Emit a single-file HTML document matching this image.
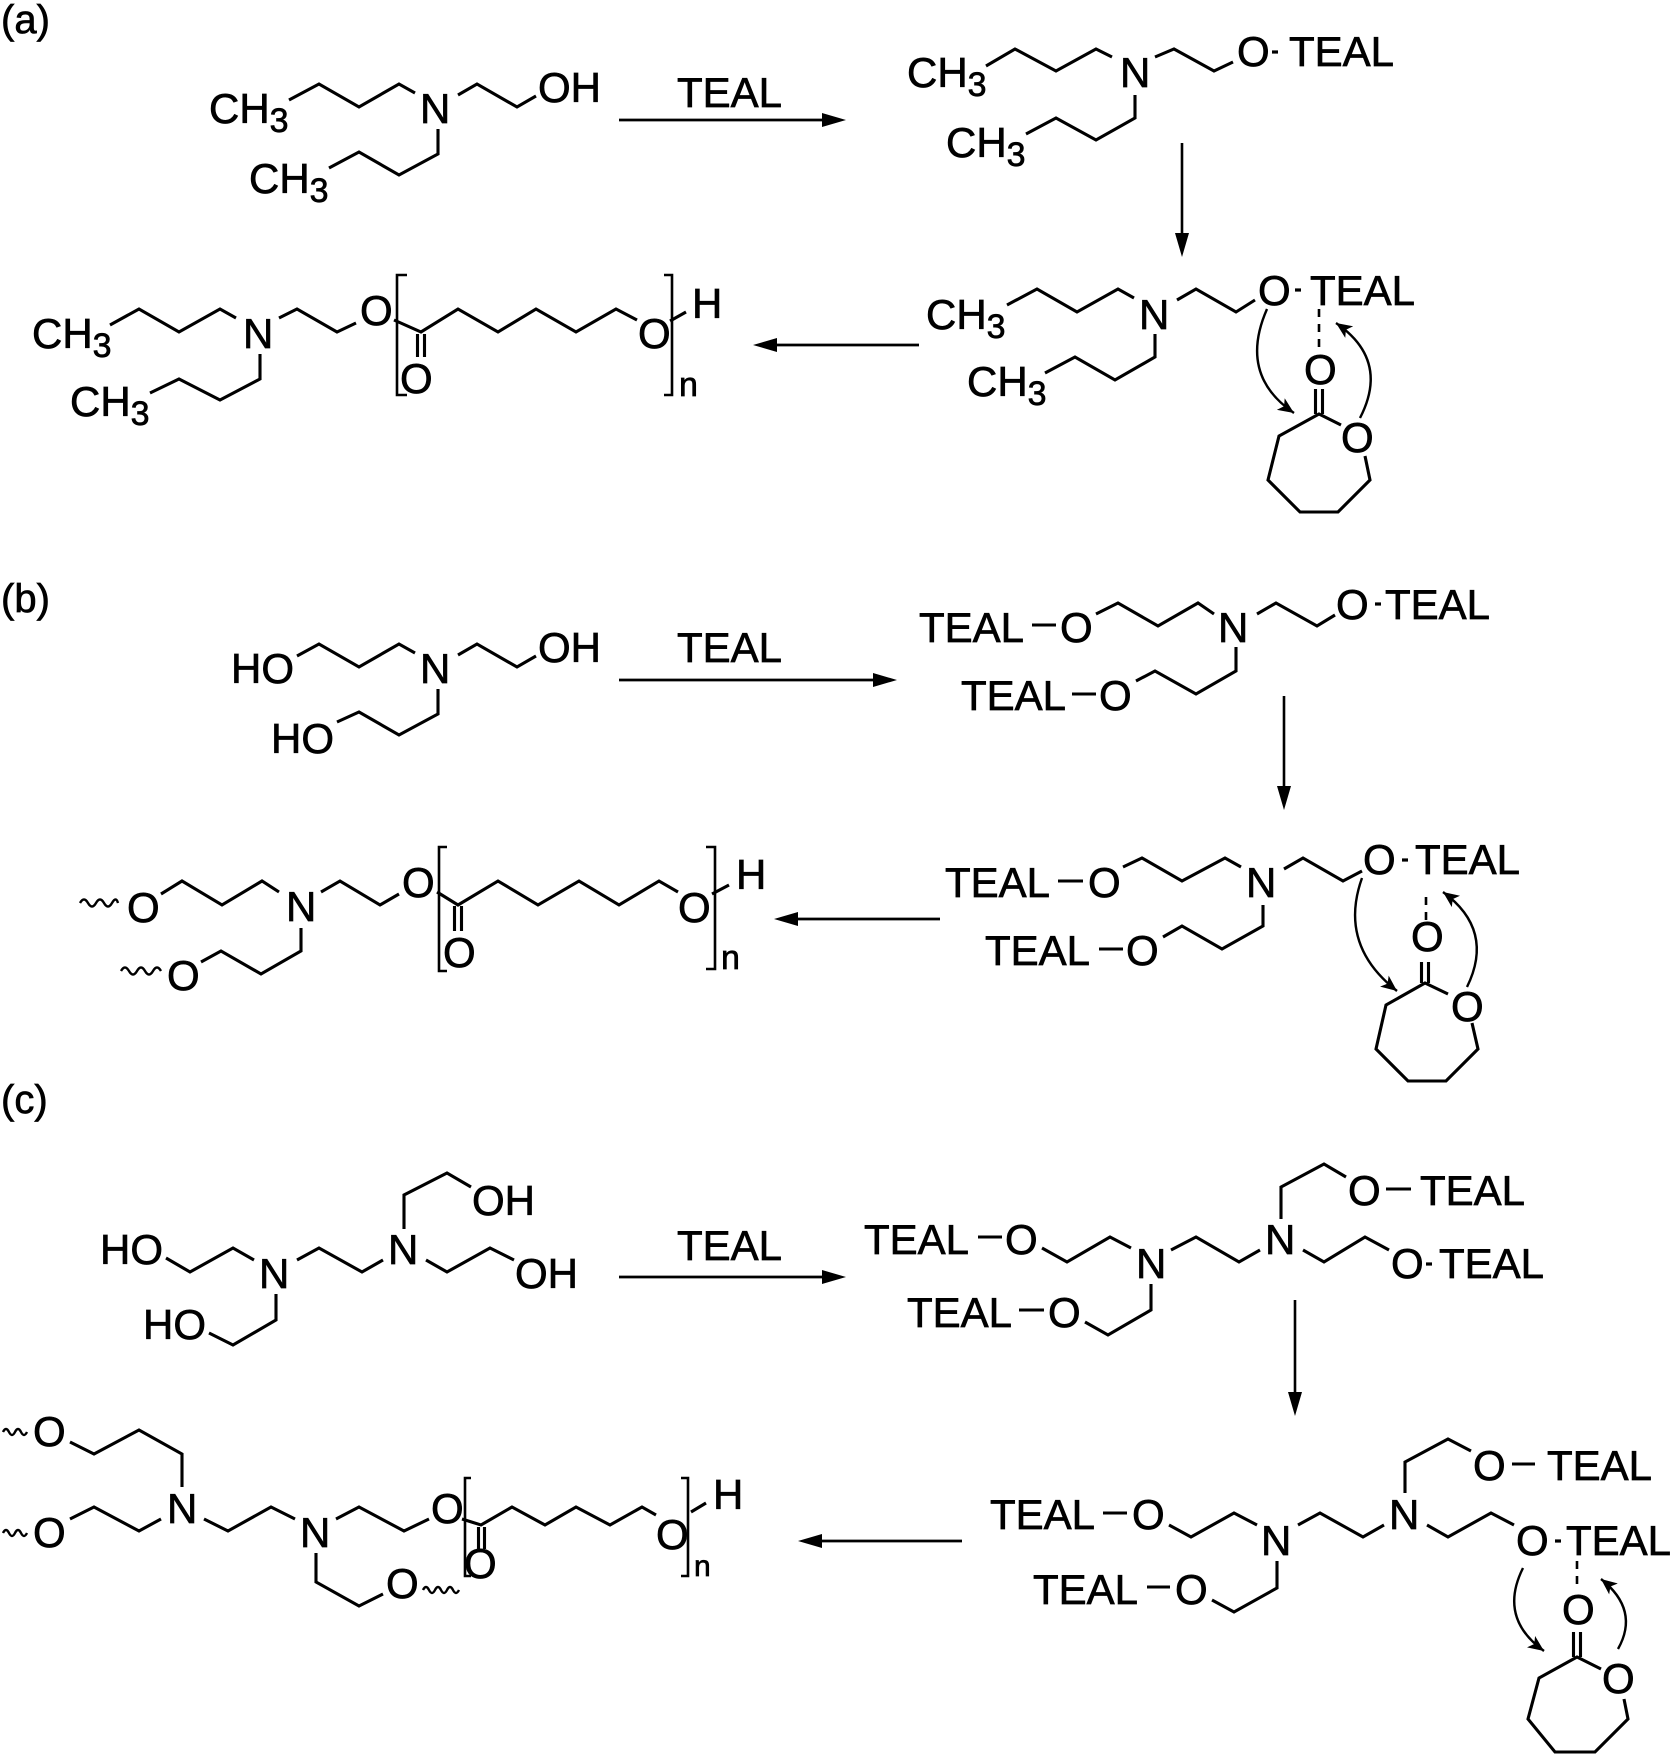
<!DOCTYPE html>
<html><head><meta charset="utf-8"><style>
html,body{margin:0;padding:0;background:#fff;}
svg{display:block;}
text{font-family:"Liberation Sans",Arial,sans-serif;font-size:42px;fill:#000;stroke:#000;stroke-width:0.7px;}
.s{font-size:34px;}
</style></head><body>
<svg width="1673" height="1755" viewBox="0 0 1673 1755" xmlns="http://www.w3.org/2000/svg">
<defs>
<marker id="ah" markerUnits="userSpaceOnUse" markerWidth="18" markerHeight="14" refX="16" refY="7" orient="auto">
<path d="M0,0 L16,7 L0,14 L4,7 z" fill="#000" stroke="none"/>
</marker>
</defs>
<g fill="none" stroke="#000" stroke-width="3.1" stroke-linejoin="miter">
<!-- (a) -->
<path d="M289,100 L319,84 L359,107 L399,84 L415,93 M458,95 L477,84 L517,107 L536,96 M438,129 L438,154 L399,175 L359,152 L329,168"/>
<line x1="619" y1="120" x2="828" y2="120" stroke-width="2.8"/>
<path d="M986,66 L1015,49 L1056,71 L1096,49 L1112,57 M1155,57 L1174,49 L1214,71 L1233,62 M1135,95 L1135,118 L1096,140 L1056,118 L1026,134"/>
<line x1="1272" y1="52" x2="1278" y2="52" stroke-width="3.2"/>
<line x1="1182" y1="143" x2="1182" y2="237" stroke-width="2.6"/>
<path d="M1007,305 L1037,289 L1077,312 L1118,289 L1134,298 M1177,300 L1196,289 L1236,312 L1255,300 M1155,334 L1155,357 L1115,380 L1075,357 L1045,373"/>
<line x1="1295" y1="290" x2="1301" y2="290" stroke-width="3.2"/>
<line x1="1319" y1="309" x2="1319" y2="352" stroke-dasharray="8,7" stroke-width="2.6"/>
<path d="M1315.5,389 L1315.5,414 M1322.5,389 L1322.5,414"/>
<path d="M1341,425 L1319,414 L1279,436 L1268,480 L1300,512 L1338,512 L1370,480 L1365,456"/>
<path d="M1267,309 Q1238,375 1294,413" stroke-width="2.4" marker-end="url(#ah)"/>
<path d="M1360,418 Q1390,360 1336,323" stroke-width="2.4" marker-end="url(#ah)"/>
<line x1="919" y1="345" x2="773" y2="345" stroke-width="2.8"/>
<path d="M110,325 L139,309 L179,332 L220,309 L236,318 M279,318 L297,309 L337,332 L356,323 M394,320 L421,332 L458,309 L498,332 L536,309 L576,332 L616,309 L637,320 M670,321 L686,312"/>
<path d="M260,354 L260,379 L220,400 L179,379 L150,393"/>
<path d="M417.5,334 L417.5,357 M424.5,334 L424.5,357"/>
<path d="M407,275 L397,275 L397,395 L407,395 M664,275 L672,275 L672,395 L664,395" stroke-width="2.6"/>

<!-- (b) -->
<path d="M297,656 L319,644 L359,667 L399,644 L415,653 M458,655 L477,644 L517,667 L536,656 M438,689 L438,714 L399,735 L359,712 L337,722"/>
<line x1="619" y1="680" x2="877" y2="680" stroke-width="2.8"/>
<path d="M1032,625 L1056,625 M1096,614 L1118,603 L1158,626 L1198,603 L1214,614 M1257,614 L1276,603 L1317,626 L1335,615 M1236,647 L1236,671 L1196,694 L1155,671 L1136,681 M1072,694 L1096,694"/>
<line x1="1375" y1="604" x2="1381" y2="604" stroke-width="3.2"/>
<line x1="1284" y1="696" x2="1284" y2="790" stroke-width="2.6"/>
<path d="M1058,881 L1083,881 M1123,867 L1142,858 L1182,881 L1225,858 L1241,867 M1284,869 L1303,858 L1343,881 L1362,871 M1263,905 L1263,926 L1222,949 L1182,926 L1163,937 M1099,949 L1123,949"/>
<line x1="1402" y1="860" x2="1408" y2="860" stroke-width="3.2"/>
<line x1="1426" y1="897" x2="1426" y2="921" stroke-dasharray="8,7" stroke-width="2.6"/>
<path d="M1421.5,962 L1421.5,983 M1428.5,962 L1428.5,983"/>
<path d="M1448,994 L1425,983 L1386,1005 L1376,1049 L1408,1081 L1446,1081 L1478,1049 L1472,1023"/>
<path d="M1362,878 Q1338,945 1397,991" stroke-width="2.4" marker-end="url(#ah)"/>
<path d="M1467,987 Q1495,930 1443,892" stroke-width="2.4" marker-end="url(#ah)"/>
<line x1="940" y1="919" x2="794" y2="919" stroke-width="2.8"/>
<path d="M80,903 q4,-7 8,0 t8,0 t8,0 t8,0 t6,0" stroke-width="2.4"/>
<path d="M161,894 L182,881 L222,905 L262,881 L279,892 M321,892 L340,881 L380,905 L399,894 M437,892 L458,905 L498,881 L538,905 L579,881 L619,905 L659,881 L678,892 M712,894 L729,885"/>
<path d="M454.5,906 L454.5,931 M461.5,906 L461.5,931"/>
<path d="M447,847 L439,847 L439,971 L447,971 M706,847 L715,847 L715,969 L706,969" stroke-width="2.6"/>
<path d="M301,928 L301,951 L261,974 L221,951 L201,962"/>
<path d="M121,971 q4,-7 8,0 t8,0 t8,0 t8,0 t8,0" stroke-width="2.4"/>

<!-- (c) -->
<path d="M166,1258 L190,1272 L233,1248 L254,1260 M297,1260 L319,1248 L362,1272 L383,1260 M404,1229 L404,1195 L447,1173 L471,1187 M426,1260 L447,1272 L490,1248 L514,1260 M276,1294 L276,1320 L233,1345 L209,1333"/>
<line x1="619" y1="1277" x2="826" y2="1277" stroke-width="2.8"/>
<path d="M978,1237 L1002,1237 M1042,1248 L1067,1262 L1110,1237 L1131,1248 M1171,1250 L1196,1237 L1239,1262 L1260,1250 M1281,1219 L1281,1187 L1324,1164 L1346,1177 M1386,1189 L1411,1189 M1303,1250 L1324,1262 L1365,1237 L1389,1250 M1151,1284 L1151,1310 L1108,1335 L1085,1322 M1019,1310 L1044,1310"/>
<line x1="1426" y1="1264" x2="1432" y2="1264" stroke-width="3.2"/>
<line x1="1295" y1="1300" x2="1295" y2="1396" stroke-width="2.6"/>
<path d="M1103,1513 L1127,1513 M1169,1525 L1191,1537 L1234,1513 L1257,1525 M1298,1525 L1320,1513 L1363,1537 L1384,1525 M1405,1493 L1405,1462 L1448,1439 L1471,1451 M1512,1464 L1535,1464 M1427,1525 L1448,1537 L1491,1513 L1514,1525 M1277,1561 L1277,1588 L1234,1612 L1212,1600 M1147,1587 L1170,1587"/>
<line x1="1555" y1="1541" x2="1561" y2="1541" stroke-width="3.2"/>
<line x1="1577" y1="1561" x2="1577" y2="1591" stroke-dasharray="8,7" stroke-width="2.6"/>
<path d="M1573.5,1632 L1573.5,1657 M1580.5,1632 L1580.5,1657"/>
<path d="M1601,1669 L1577,1657 L1539,1678 L1528,1719 L1555,1752 L1595,1752 L1628,1719 L1624,1699"/>
<path d="M1523,1568 Q1498,1618 1544,1651" stroke-width="2.4" marker-end="url(#ah)"/>
<path d="M1618,1649 Q1640,1610 1601,1579" stroke-width="2.4" marker-end="url(#ah)"/>
<line x1="962" y1="1541" x2="818" y2="1541" stroke-width="2.8"/>
<path d="M3,1432 q3,-6 6,0 t6,0 t6,0 t6,0" stroke-width="2.4"/>
<path d="M70,1442 L94,1454 L139,1430 L182,1454 L182,1487"/>
<path d="M3,1533 q3,-6 6,0 t6,0 t6,0 t6,0" stroke-width="2.4"/>
<path d="M70,1519 L94,1507 L139,1531 L161,1519 M204,1519 L228,1531 L271,1507 L295,1519 M336,1519 L359,1507 L404,1531 L429,1519 M462,1519 L481,1525 L512,1507 L545,1525 L576,1507 L610,1525 L642,1507 L656,1515 M691,1512 L706,1503"/>
<path d="M478.5,1527 L478.5,1549 M484.5,1527 L484.5,1549"/>
<path d="M471,1478 L465,1478 L465,1576 L471,1576 M681,1478 L688,1478 L688,1576 L681,1576" stroke-width="2.6"/>
<path d="M316,1553 L316,1582 L359,1606 L383,1594"/>
<path d="M423,1590 q3,-6 6,0 t6,0 t6,0 t6,0 t6,0 t6,0" stroke-width="2.4"/>
</g>
<g fill="#000" stroke="none">
<polygon points="846,120 822,113 822,127"/>
<polygon points="1182,257 1175,233 1189,233"/>
<polygon points="753,345 777,338 777,352"/>
<polygon points="897,680 873,673 873,687"/>
<polygon points="1284,810 1277,786 1291,786"/>
<polygon points="774,919 798,912 798,926"/>
<polygon points="846,1277 822,1270 822,1284"/>
<polygon points="1295,1416 1288,1392 1302,1392"/>
<polygon points="798,1541 822,1534 822,1548"/>
</g>

<text x="1" y="33" style="font-size:40px">(a)</text>
<text x="209" y="123">CH<tspan class="s" dy="9">3</tspan></text>
<text x="420" y="123">N</text>
<text x="538" y="102">OH</text>
<text x="249" y="193">CH<tspan class="s" dy="9">3</tspan></text>
<text x="677" y="107">TEAL</text>
<text x="907" y="87">CH<tspan class="s" dy="9">3</tspan></text>
<text x="1120" y="87">N</text>
<text x="1237" y="66">O</text>
<text x="1289" y="66">TEAL</text>
<text x="946" y="157">CH<tspan class="s" dy="9">3</tspan></text>
<text x="926" y="329">CH<tspan class="s" dy="9">3</tspan></text>
<text x="1139" y="329">N</text>
<text x="1258" y="305">O</text>
<text x="1310" y="305">TEAL</text>
<text x="967" y="396">CH<tspan class="s" dy="9">3</tspan></text>
<text x="1304" y="384">O</text>
<text x="1341" y="452">O</text>
<text x="32" y="348">CH<tspan class="s" dy="9">3</tspan></text>
<text x="243" y="348">N</text>
<text x="360" y="325">O</text>
<text x="400" y="393">O</text>
<text x="638" y="348">O</text>
<text x="692" y="318">H</text>
<text x="679" y="396" style="font-size:34px">n</text>
<text x="70" y="416">CH<tspan class="s" dy="9">3</tspan></text>

<text x="1" y="612" style="font-size:40px">(b)</text>
<text x="231" y="683">HO</text>
<text x="420" y="683">N</text>
<text x="538" y="662">OH</text>
<text x="271" y="753">HO</text>
<text x="677" y="662">TEAL</text>
<text x="919" y="642">TEAL</text>
<text x="1060" y="642">O</text>
<text x="1218" y="642">N</text>
<text x="1336" y="619">O</text>
<text x="1385" y="619">TEAL</text>
<text x="961" y="710">TEAL</text>
<text x="1099" y="710">O</text>
<text x="945" y="897">TEAL</text>
<text x="1088" y="897">O</text>
<text x="1246" y="897">N</text>
<text x="1363" y="874">O</text>
<text x="1415" y="874">TEAL</text>
<text x="985" y="965">TEAL</text>
<text x="1126" y="965">O</text>
<text x="1411" y="951">O</text>
<text x="1451" y="1021">O</text>
<text x="127" y="922">O</text>
<text x="286" y="921">N</text>
<text x="402" y="897">O</text>
<text x="443" y="967">O</text>
<text x="678" y="922">O</text>
<text x="736" y="889">H</text>
<text x="721" y="969" style="font-size:34px">n</text>
<text x="167" y="990">O</text>

<text x="1" y="1113" style="font-size:40px">(c)</text>
<text x="100" y="1264">HO</text>
<text x="259" y="1288">N</text>
<text x="388" y="1264">N</text>
<text x="472" y="1215">OH</text>
<text x="515" y="1288">OH</text>
<text x="143" y="1339">HO</text>
<text x="677" y="1260">TEAL</text>
<text x="864" y="1254">TEAL</text>
<text x="1005" y="1254">O</text>
<text x="1136" y="1278">N</text>
<text x="1265" y="1254">N</text>
<text x="1348" y="1205">O</text>
<text x="1420" y="1205">TEAL</text>
<text x="1391" y="1278">O</text>
<text x="1439" y="1278">TEAL</text>
<text x="907" y="1327">TEAL</text>
<text x="1048" y="1327">O</text>
<text x="990" y="1529">TEAL</text>
<text x="1132" y="1529">O</text>
<text x="1261" y="1555">N</text>
<text x="1389" y="1529">N</text>
<text x="1473" y="1480">O</text>
<text x="1547" y="1480">TEAL</text>
<text x="1516" y="1555">O</text>
<text x="1566" y="1555">TEAL</text>
<text x="1033" y="1604">TEAL</text>
<text x="1175" y="1604">O</text>
<text x="1562" y="1624">O</text>
<text x="1602" y="1693">O</text>
<text x="33" y="1446">O</text>
<text x="167" y="1523">N</text>
<text x="33" y="1547">O</text>
<text x="300" y="1547">N</text>
<text x="431" y="1523">O</text>
<text x="464" y="1578">O</text>
<text x="656" y="1549">O</text>
<text x="713" y="1509">H</text>
<text x="694" y="1576" style="font-size:30px">n</text>
<text x="386" y="1598">O</text>
</svg>
</body></html>
